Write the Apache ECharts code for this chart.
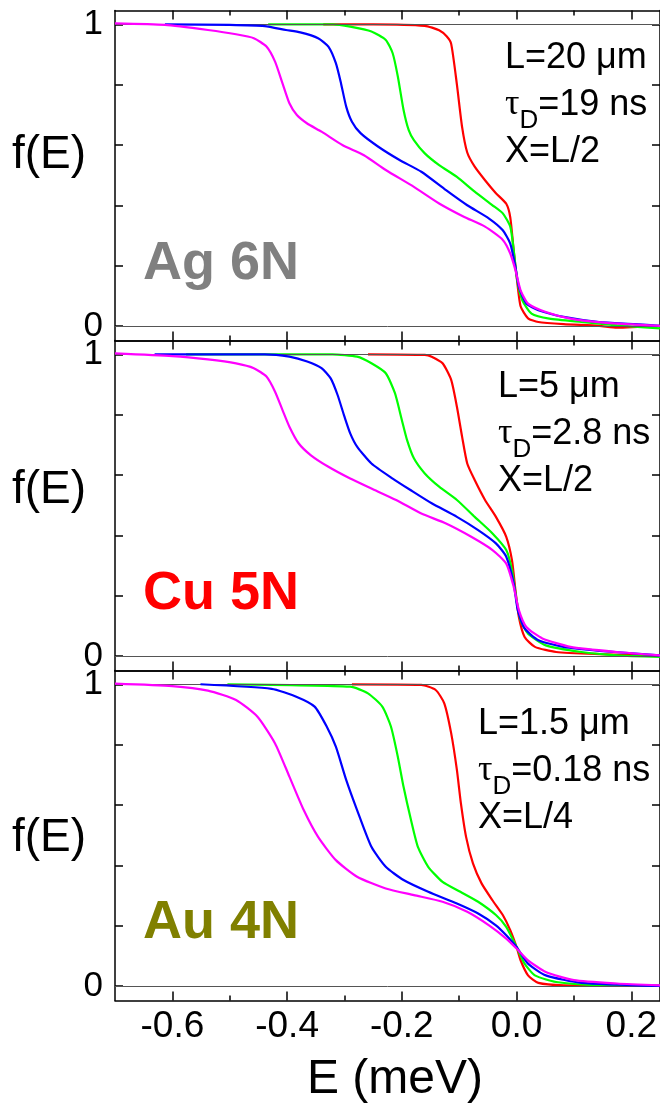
<!DOCTYPE html>
<html>
<head>
<meta charset="utf-8">
<script src="https://cdn.jsdelivr.net/npm/echarts@6/dist/echarts.min.js"></script>
<style>
html, body { margin: 0; padding: 0; background: #fff; }
#chart { width: 660px; height: 1105px; }
</style>
</head>
<body>
<div id="chart"></div>
<script>
// E ticks (meV) and f(E) ticks
var eMajor = [-0.6, -0.4, -0.2, 0, 0.2];
var eMinor = [-0.5, -0.3, -0.1, 0.1];
var fTicks = [0, 0.2, 0.4, 0.6, 0.8, 1];
var fLabels = [0, 1];

// Ag 6N, L=20 um
var agRed = [[-0.337,1.0],[-0.25,1.0],[-0.16,0.995],[-0.135,0.98],[-0.122,0.96],[-0.114,0.935],[-0.104,0.80],[-0.095,0.66],[-0.086,0.575],[-0.073,0.528],[-0.055,0.483],[-0.036,0.44],[-0.018,0.405],[-0.011,0.36],[-0.005,0.25],[0,0.165],[0.007,0.065],[0.02,0.025],[0.038,0.013],[0.082,0.006],[0.144,0.0],[0.175,-0.006],[0.25,0.0]];
var agGreen = [[-0.433,1.0],[-0.32,1.0],[-0.29,0.992],[-0.253,0.976],[-0.228,0.948],[-0.216,0.904],[-0.207,0.827],[-0.197,0.716],[-0.188,0.649],[-0.179,0.616],[-0.16,0.572],[-0.135,0.533],[-0.104,0.494],[-0.073,0.445],[-0.042,0.40],[-0.024,0.373],[-0.011,0.329],[-0.005,0.251],[0.001,0.152],[0.01,0.085],[0.026,0.041],[0.057,0.024],[0.113,0.013],[0.175,0.002],[0.25,-0.008]];
var agBlue = [[-0.613,1.0],[-0.5,0.998],[-0.439,0.994],[-0.402,0.981],[-0.377,0.973],[-0.346,0.954],[-0.328,0.926],[-0.315,0.871],[-0.306,0.804],[-0.297,0.727],[-0.287,0.677],[-0.272,0.639],[-0.241,0.594],[-0.204,0.55],[-0.166,0.511],[-0.123,0.45],[-0.086,0.40],[-0.048,0.356],[-0.024,0.317],[-0.011,0.273],[-0.002,0.196],[0.004,0.129],[0.017,0.074],[0.038,0.052],[0.082,0.03],[0.144,0.013],[0.206,0.006],[0.25,0.0]];
var agMagenta = [[-0.7,1.003],[-0.613,0.998],[-0.538,0.981],[-0.489,0.967],[-0.458,0.954],[-0.436,0.926],[-0.421,0.876],[-0.408,0.804],[-0.396,0.738],[-0.383,0.699],[-0.365,0.671],[-0.34,0.644],[-0.303,0.599],[-0.266,0.566],[-0.228,0.517],[-0.179,0.461],[-0.135,0.406],[-0.092,0.362],[-0.055,0.329],[-0.024,0.285],[-0.011,0.24],[-0.002,0.185],[0.007,0.118],[0.02,0.074],[0.051,0.046],[0.094,0.024],[0.156,0.01],[0.25,0.0]];

// Cu 5N, L=5 um
var cuRed = [[-0.259,1.0],[-0.16,0.998],[-0.148,0.992],[-0.129,0.97],[-0.114,0.915],[-0.104,0.826],[-0.095,0.727],[-0.086,0.638],[-0.073,0.583],[-0.055,0.517],[-0.036,0.461],[-0.018,0.395],[-0.008,0.317],[-0.002,0.218],[0.004,0.129],[0.014,0.063],[0.032,0.03],[0.069,0.013],[0.144,0.006],[0.25,0.0]];
var cuGreen = [[-0.576,1.0],[-0.321,1.0],[-0.278,0.992],[-0.253,0.97],[-0.228,0.937],[-0.212,0.871],[-0.2,0.782],[-0.191,0.716],[-0.179,0.655],[-0.16,0.605],[-0.135,0.561],[-0.104,0.517],[-0.073,0.461],[-0.042,0.406],[-0.018,0.351],[-0.008,0.284],[0,0.185],[0.007,0.118],[0.02,0.074],[0.051,0.035],[0.113,0.013],[0.175,0.002],[0.25,-0.003]];
var cuBlue = [[-0.631,1.0],[-0.439,1.0],[-0.396,0.992],[-0.365,0.976],[-0.34,0.954],[-0.324,0.92],[-0.312,0.865],[-0.3,0.793],[-0.29,0.738],[-0.278,0.694],[-0.253,0.638],[-0.216,0.588],[-0.185,0.55],[-0.148,0.506],[-0.104,0.461],[-0.067,0.417],[-0.036,0.373],[-0.018,0.329],[-0.005,0.24],[0.002,0.152],[0.014,0.091],[0.038,0.052],[0.082,0.03],[0.144,0.017],[0.25,0.002]];
var cuMagenta = [[-0.7,1.003],[-0.6,0.994],[-0.538,0.983],[-0.489,0.97],[-0.458,0.954],[-0.436,0.926],[-0.421,0.876],[-0.408,0.815],[-0.396,0.76],[-0.38,0.705],[-0.359,0.666],[-0.328,0.627],[-0.29,0.588],[-0.253,0.555],[-0.21,0.517],[-0.166,0.472],[-0.123,0.439],[-0.079,0.395],[-0.042,0.351],[-0.018,0.306],[-0.005,0.229],[0.004,0.152],[0.017,0.096],[0.045,0.058],[0.094,0.03],[0.175,0.013],[0.25,0.002]];

// Au 4N, L=1.5 um
var auRed = [[-0.287,1.0],[-0.166,0.998],[-0.141,0.981],[-0.126,0.937],[-0.114,0.838],[-0.104,0.716],[-0.097,0.605],[-0.088,0.494],[-0.076,0.406],[-0.061,0.34],[-0.042,0.284],[-0.024,0.235],[-0.011,0.185],[0,0.129],[0.007,0.085],[0.02,0.035],[0.038,0.01],[0.082,0.002],[0.25,0.0]];
var auGreen = [[-0.504,1.0],[-0.29,0.992],[-0.259,0.97],[-0.234,0.926],[-0.219,0.86],[-0.207,0.76],[-0.197,0.66],[-0.184,0.55],[-0.172,0.461],[-0.154,0.395],[-0.129,0.345],[-0.098,0.312],[-0.067,0.279],[-0.036,0.235],[-0.018,0.196],[0,0.129],[0.014,0.074],[0.032,0.035],[0.069,0.013],[0.144,0.002],[0.25,0.0]];
var auBlue = [[-0.551,1.0],[-0.427,0.985],[-0.384,0.959],[-0.352,0.926],[-0.331,0.86],[-0.315,0.793],[-0.297,0.683],[-0.278,0.583],[-0.253,0.461],[-0.228,0.395],[-0.197,0.351],[-0.154,0.312],[-0.104,0.273],[-0.067,0.24],[-0.036,0.201],[-0.018,0.168],[0,0.129],[0.02,0.074],[0.051,0.035],[0.113,0.01],[0.25,0.0]];
var auMagenta = [[-0.7,1.002],[-0.6,0.994],[-0.538,0.979],[-0.489,0.948],[-0.452,0.893],[-0.421,0.804],[-0.396,0.694],[-0.371,0.583],[-0.346,0.494],[-0.315,0.417],[-0.278,0.362],[-0.228,0.323],[-0.179,0.301],[-0.129,0.279],[-0.086,0.246],[-0.048,0.201],[-0.018,0.157],[0,0.124],[0.02,0.085],[0.051,0.046],[0.1,0.019],[0.175,0.008],[0.25,0.002]];

var curveColors = ['#ff0000', '#00ff00', '#0000ff', '#ff00ff'];
var FONT = '"Liberation Sans", Arial, sans-serif';

var panels = [
    { curves: [agRed, agGreen, agBlue, agMagenta], top: 10.4, metal: 'Ag 6N', metalColor: '#808080', metalY: 264,
      fY: 155, noteX: 505, noteY: 58, L: 'L=20 μm', tau: '=19 ns', X: 'X=L/2' },
    { curves: [cuRed, cuGreen, cuBlue, cuMagenta], top: 340.4, metal: 'Cu 5N', metalColor: '#ff0000', metalY: 594,
      fY: 490, noteX: 498, noteY: 387, L: 'L=5 μm', tau: '=2.8 ns', X: 'X=L/2' },
    { curves: [auRed, auGreen, auBlue, auMagenta], top: 670.4, metal: 'Au 4N', metalColor: '#808000', metalY: 923,
      fY: 838, noteX: 478, noteY: 724, L: 'L=1.5 μm', tau: '=0.18 ns', X: 'X=L/4' }
];

var ctx = document.createElement('canvas').getContext('2d');
function textWidth(s, size, family) {
    ctx.font = size + 'px ' + family;
    return ctx.measureText(s).width;
}

var axisLineStyle = { color: '#000', width: 1.5 };
var grids = [], xAxes = [], yAxes = [], series = [], graphics = [];

panels.forEach(function (p, i) {
    grids.push({ left: 115, width: 547, top: p.top, height: 330 });

    function xAx(pos, ticks, len, showLine, showLabel) {
        return {
            gridIndex: i, type: 'value', min: -0.7, max: 0.25, position: pos,
            axisLine: { show: showLine, onZero: false, lineStyle: axisLineStyle },
            axisTick: { show: true, inside: true, length: len, customValues: ticks, lineStyle: axisLineStyle },
            axisLabel: { show: showLabel, customValues: ticks, margin: 8, fontSize: 37, color: '#000', fontFamily: FONT,
                formatter: function (v) { return v.toFixed(1); } },
            splitLine: { show: false }
        };
    }
    xAxes.push(xAx('bottom', eMajor, 9, true, i === 2));
    xAxes.push(xAx('bottom', eMinor, 5, false, false));
    xAxes.push(xAx('top', eMajor, 9, true, false));
    xAxes.push(xAx('top', eMinor, 5, false, false));

    function yAx(pos, showLabel) {
        return {
            gridIndex: i, type: 'value', min: -0.048, max: 1.046, position: pos,
            axisLine: { show: true, onZero: false, lineStyle: axisLineStyle },
            axisTick: { show: true, inside: true, length: 8, customValues: fTicks, lineStyle: axisLineStyle },
            axisLabel: { show: showLabel, customValues: fLabels, margin: 12, fontSize: 35, color: '#000', fontFamily: FONT,
                formatter: function (v) { return String(Math.round(v)); } },
            splitLine: { show: false }
        };
    }
    yAxes.push(yAx('left', true));
    yAxes.push(yAx('right', false));

    p.curves.forEach(function (d, k) {
        var s = {
            type: 'line', xAxisIndex: i * 4, yAxisIndex: i * 2, data: d,
            showSymbol: false, smooth: 0.2,
            lineStyle: { color: curveColors[k], width: 2.2 }, itemStyle: { color: curveColors[k] },
            silent: true, z: 3 + k
        };
        if (k === 0) {
            s.markLine = {
                silent: true, symbol: ['none', 'none'], label: { show: false },
                lineStyle: { color: '#555', width: 1, type: 'solid' },
                data: [{ yAxis: 0 }, { yAxis: 1 }]
            };
        }
        series.push(s);
    });

    // f(E) label
    graphics.push({ type: 'text', x: 12, y: p.fY,
        style: { text: 'f(E)', fontSize: 46, fontFamily: FONT, fill: '#000', align: 'left', verticalAlign: 'middle' } });
    // metal label
    graphics.push({ type: 'text', x: 143, y: p.metalY,
        style: { text: p.metal, fontSize: 54, fontWeight: 'bold', fontFamily: FONT, fill: p.metalColor, align: 'left', verticalAlign: 'middle' } });
    // notes
    var step = 47, fs = 36;
    graphics.push({ type: 'text', x: p.noteX, y: p.noteY,
        style: { text: p.L, fontSize: fs, fontFamily: FONT, fill: '#000', align: 'left', verticalAlign: 'middle' } });
    var tauW = textWidth('τ', fs, '"Liberation Serif"');
    var dW = textWidth('D', 26, '"Liberation Sans"');
    graphics.push({ type: 'text', x: p.noteX, y: p.noteY + step,
        style: { text: 'τ', fontSize: fs, fontFamily: '"Liberation Serif", serif', fill: '#000', align: 'left', verticalAlign: 'middle' } });
    graphics.push({ type: 'text', x: p.noteX + tauW, y: p.noteY + step + 16,
        style: { text: 'D', fontSize: 26, fontFamily: FONT, fill: '#000', align: 'left', verticalAlign: 'middle' } });
    graphics.push({ type: 'text', x: p.noteX + tauW + dW, y: p.noteY + step,
        style: { text: p.tau, fontSize: fs, fontFamily: FONT, fill: '#000', align: 'left', verticalAlign: 'middle' } });
    graphics.push({ type: 'text', x: p.noteX, y: p.noteY + 2 * step,
        style: { text: p.X, fontSize: fs, fontFamily: FONT, fill: '#000', align: 'left', verticalAlign: 'middle' } });
});

graphics.push({ type: 'text', x: 395, y: 1080,
    style: { text: 'E (meV)', fontSize: 48, fontFamily: FONT, fill: '#000', align: 'center', verticalAlign: 'middle' } });

var myChart = echarts.init(document.getElementById('chart'));
myChart.setOption({
    animation: false,
    backgroundColor: '#fff',
    grid: grids,
    xAxis: xAxes,
    yAxis: yAxes,
    series: series,
    graphic: graphics
});
</script>
</body>
</html>
